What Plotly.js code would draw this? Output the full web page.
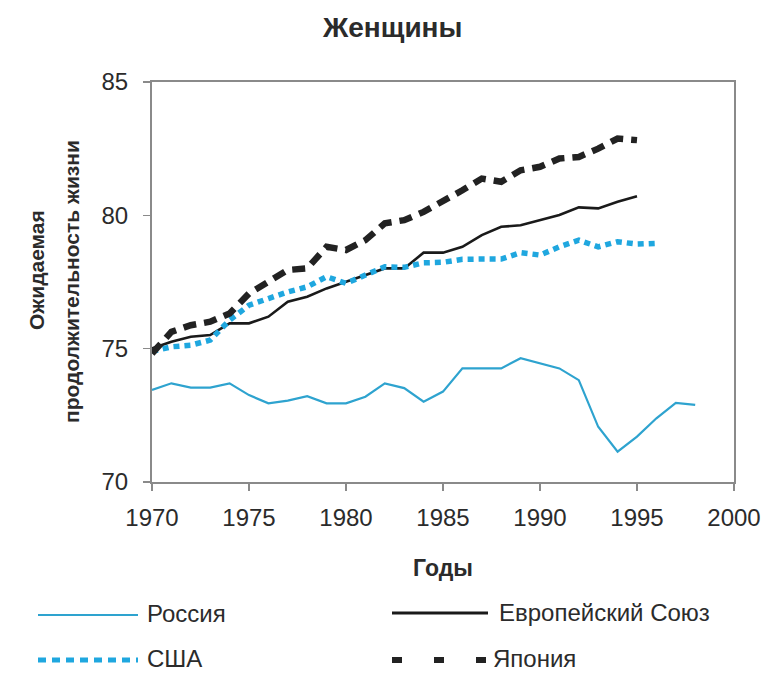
<!DOCTYPE html>
<html>
<head>
<meta charset="utf-8">
<script src="https://cdn.plot.ly/plotly-3.0.1.min.js"></script>
<style>html,body{margin:0;padding:0;background:#fff;}#chart{width:770px;height:677px;}</style>
</head>
<body>
<div id="chart"></div>
<script>
// ---- data ----
const yearsRussia = [1970,1971,1972,1973,1974,1975,1976,1977,1978,1979,1980,1981,1982,1983,1984,1985,1986,1987,1988,1989,1990,1991,1992,1993,1994,1995,1996,1997,1998];
const russia = [73.45,73.70,73.54,73.54,73.70,73.26,72.95,73.05,73.22,72.95,72.95,73.20,73.70,73.52,73.01,73.39,74.26,74.26,74.26,74.64,74.45,74.26,73.82,72.07,71.14,71.70,72.39,72.97,72.89];

const yearsEU = [1970,1971,1972,1973,1974,1975,1976,1977,1978,1979,1980,1981,1982,1983,1984,1985,1986,1987,1988,1989,1990,1991,1992,1993,1994,1995];
const eu = [75.01,75.26,75.45,75.51,75.95,75.95,76.20,76.76,76.95,77.26,77.51,77.76,78.01,78.01,78.60,78.60,78.82,79.26,79.57,79.63,79.82,80.01,80.30,80.26,80.51,80.72];

const yearsUSA = [1970,1971,1972,1973,1974,1975,1976,1977,1978,1979,1980,1981,1982,1983,1984,1985,1986,1987,1988,1989,1990,1991,1992,1993,1994,1995,1996];
const usa = [74.90,75.07,75.13,75.32,76.07,76.63,76.88,77.13,77.32,77.70,77.45,77.76,78.07,78.05,78.22,78.24,78.35,78.36,78.36,78.60,78.51,78.82,79.07,78.82,79.01,78.92,78.95];

const yearsJapan = [1970,1971,1972,1973,1974,1975,1976,1977,1978,1979,1980,1981,1982,1983,1984,1985,1986,1987,1988,1989,1990,1991,1992,1993,1994,1995];
const japan = [74.82,75.63,75.88,76.01,76.32,77.07,77.51,77.95,78.01,78.82,78.70,79.07,79.70,79.82,80.13,80.51,80.94,81.38,81.26,81.69,81.82,82.13,82.19,82.50,82.88,82.82];

const xTicks = [1970,1975,1980,1985,1990,1995,2000];
const yTicks = [70,75,80,85];
const seriesNames = ['Россия','Европейский Союз','США','Япония'];

// ---- styles ----
const FONT = 'Liberation Sans, Arial, Helvetica, sans-serif';
const TXT = '#2b2b2b';
const AX = '#8a8a8a';
const styles = {
  'Россия': {color:'#2ea3cf', width:2.2, dash:'solid'},
  'Европейский Союз': {color:'#1a1a1a', width:2.6, dash:'solid'},
  'США': {color:'#1fa7df', width:5.5, dash:'6px,5px'},
  'Япония': {color:'#222222', width:6.5, dash:'13px,8px'}
};
const legendStyles = {
  'Россия': {color:'#2ea3cf', width:2.2, dash:'solid'},
  'Европейский Союз': {color:'#1a1a1a', width:3, dash:'solid'},
  'США': {color:'#1fa7df', width:5, dash:'8px,6px'},
  'Япония': {color:'#222222', width:6, dash:'10px,32px'}
};

const xs = [yearsRussia, yearsEU, yearsUSA, yearsJapan];
const ys = [russia, eu, usa, japan];
const traces = seriesNames.map((n,i)=>({
  type:'scatter', mode:'lines', name:n, x:xs[i], y:ys[i],
  line:Object.assign({shape:'linear'}, styles[n]), showlegend:false, hoverinfo:'x+y+name'
}));

// ---- layout helpers ----
const M = {l:152, r:36, t:82, b:195};
const W = 770 - M.l - M.r, H = 677 - M.t - M.b;
const px = x => (x - M.l) / W;
const py = y => (677 - M.b - y) / H;

const legendPos = [
  {x0:38, x1:138, y:615, tx:145, ty:613},
  {x0:392, x1:488, y:613, tx:497, ty:612},
  {x0:38, x1:138, y:660, tx:145, ty:658},
  {x0:392, x1:488, y:660, tx:491, ty:658}
];
const shapes = seriesNames.map((n,i)=>({
  type:'line', xref:'paper', yref:'paper',
  x0:px(legendPos[i].x0), x1:px(legendPos[i].x1), y0:py(legendPos[i].y), y1:py(legendPos[i].y),
  line:legendStyles[n]
}));
const annotations = seriesNames.map((n,i)=>({
  xref:'paper', yref:'paper', x:px(legendPos[i].tx), y:py(legendPos[i].ty),
  xanchor:'left', yanchor:'middle', showarrow:false, text:n,
  font:{family:FONT, size:24, color:TXT}
}));
// y-axis title (two lines)
annotations.push({xref:'paper', yref:'paper', x:px(36), y:py(270), xanchor:'center', yanchor:'middle',
  showarrow:false, textangle:-90, text:'Ожидаемая', font:{family:FONT, size:21, color:TXT, weight:'bold'}});
annotations.push({xref:'paper', yref:'paper', x:px(71), y:py(282), xanchor:'center', yanchor:'middle',
  showarrow:false, textangle:-90, text:'продолжительность жизни', font:{family:FONT, size:21, color:TXT, weight:'bold'}});

const layout = {
  width:770, height:677,
  margin:M,
  paper_bgcolor:'#fff', plot_bgcolor:'#fff',
  showlegend:false,
  title:{text:'Женщины', font:{family:FONT, size:28, color:TXT, weight:'bold'},
    xref:'container', yref:'container', x:0.51, xanchor:'center', y:1-27/677, yanchor:'middle'},
  xaxis:{range:[1970,2000], tickvals:xTicks, ticktext:xTicks.map(String),
    showgrid:false, zeroline:false, showline:true, linecolor:AX, linewidth:2, mirror:true,
    ticks:'outside', ticklen:7, tickcolor:AX, tickwidth:1.5, ticklabelstandoff:6,
    tickfont:{family:FONT, size:24, color:TXT},
    title:{text:'Годы', font:{family:FONT, size:23, color:TXT, weight:'bold'}, standoff:30}},
  yaxis:{range:[70,85], tickvals:yTicks, ticktext:yTicks.map(String),
    showgrid:false, zeroline:false, showline:true, linecolor:AX, linewidth:2, mirror:true,
    ticks:'outside', ticklen:7, tickcolor:AX, tickwidth:1.5, ticklabelstandoff:10,
    tickfont:{family:FONT, size:24, color:TXT}},
  shapes:shapes,
  annotations:annotations
};

Plotly.newPlot('chart', traces, layout, {displayModeBar:false, staticPlot:true});
</script>
</body>
</html>
